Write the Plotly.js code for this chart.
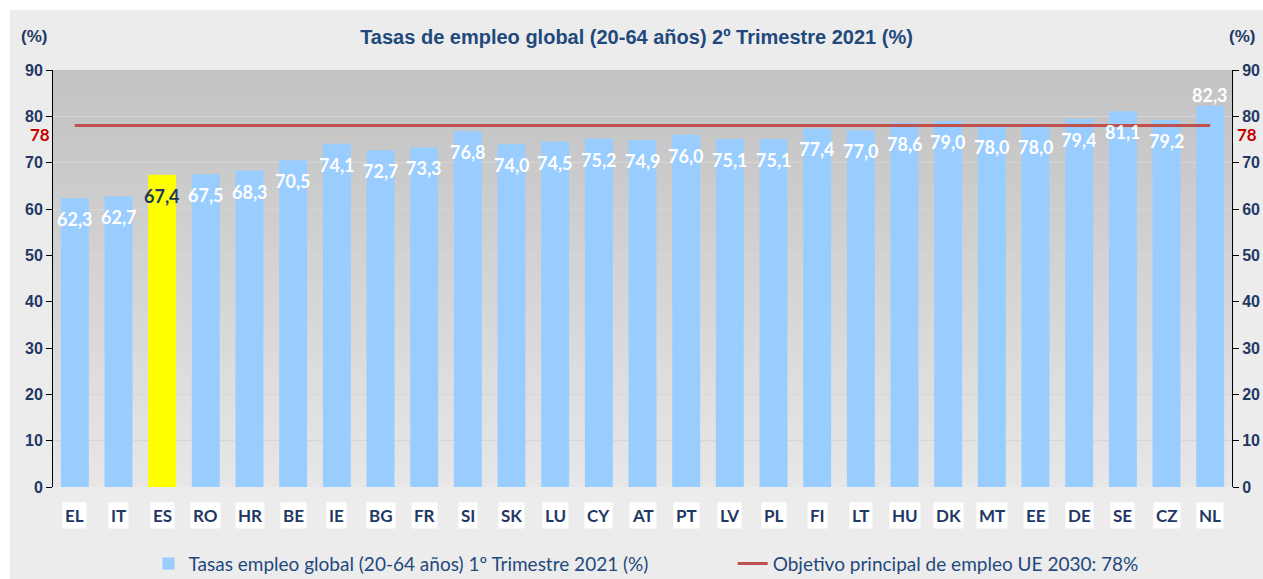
<!DOCTYPE html>
<html><head><meta charset="utf-8">
<script src="https://cdn.plot.ly/plotly-3.0.1.min.js"></script>
<style>
html,body{margin:0;padding:0;background:#ffffff;}
#chart{position:absolute;left:10px;top:10px;width:1253px;height:569px;}
</style></head>
<body><div id="chart"></div>
<script>
const categories = ["EL","IT","ES","RO","HR","BE","IE","BG","FR","SI","SK","LU","CY","AT","PT","LV","PL","FI","LT","HU","DK","MT","EE","DE","SE","CZ","NL"];
const employmentRate = [62.3,62.7,67.4,67.5,68.3,70.5,74.1,72.7,73.3,76.8,74.0,74.5,75.2,74.9,76.0,75.1,75.1,77.4,77.0,78.6,79.0,78.0,78.0,79.4,81.1,79.2,82.3];
const targetValue = 78;
const yTicks = [0,10,20,30,40,50,60,70,80,90];
const highlight = "ES";

const navy = "#1f3864";
const titleBlue = "#1f497d";
const calibri = "Lato, 'Open Sans', sans-serif";
const arial = "'Liberation Sans', Arial, sans-serif";

const barColors = categories.map(c => c === highlight ? "#ffff00" : "#99ccff");

function gradientUrl() {
  const cv = document.createElement("canvas");
  cv.width = 1179; cv.height = 417;
  const ctx = cv.getContext("2d");
  const g = ctx.createLinearGradient(0, 0, 0, 417);
  g.addColorStop(0, "#c4c4c4");
  g.addColorStop(0.13, "#c6c6c6");
  g.addColorStop(1, "#e7e7e7");
  ctx.fillStyle = g;
  ctx.fillRect(0, 0, 1179, 417);
  return cv.toDataURL("image/png");
}

const traces = [
 {
  type: "bar", x: categories, y: employmentRate,
  name: "Tasas empleo global (20-64 años) 1º Trimestre 2021 (%)",
  marker: {color: barColors, line: {width: 0}},
  width: 0.64, hoverinfo: "x+y", legend: "legend"
 },
 {
  type: "scatter", mode: "lines",
  x: [categories[0], categories[categories.length-1]], y: [targetValue, targetValue],
  name: "Objetivo principal de empleo UE 2030: 78%",
  line: {color: "#c0504d", width: 3}, legend: "legend2"
 },
 {
  type: "scatter", mode: "none", x: [categories[0]], y: [0], yaxis: "y2",
  showlegend: false, hoverinfo: "skip"
 }
];

const annotations = [];
categories.forEach((c, i) => {
  const v = employmentRate[i];
  const isLast = i === categories.length - 1;
  annotations.push({
    x: c, y: v, xref: "x", yref: "y",
    text: v.toFixed(1).replace(".", ","),
    showarrow: false,
    yshift: isLast ? 11 : -21,
    font: {family: calibri, size: 18, color: c === highlight ? navy : "#ffffff", weight: 700}
  });
  annotations.push({
    x: c, y: -0.068, xref: "x", yref: "paper", yanchor: "middle",
    text: c, showarrow: false, bgcolor: "#ffffff", borderpad: 2,
    font: {family: calibri, size: 17, color: navy, weight: 700}
  });
});
annotations.push(
 {x: 0, y: targetValue, xref: "paper", yref: "y", xanchor: "right", xshift: -1, yshift: -9,
  text: String(targetValue), showarrow: false, font: {family: calibri, size: 17, color: "#c00000", weight: 700}},
 {x: 1, y: targetValue, xref: "paper", yref: "y", xanchor: "left", xshift: 3, yshift: -9,
  text: String(targetValue), showarrow: false, font: {family: calibri, size: 17, color: "#c00000", weight: 700}},
 {x: -0.016, y: 1.08, xref: "paper", yref: "paper", xanchor: "center", yanchor: "middle",
  text: "(%)", showarrow: false, font: {family: arial, size: 17, color: navy, weight: 700}},
 {x: 1.0085, y: 1.08, xref: "paper", yref: "paper", xanchor: "center", yanchor: "middle",
  text: "(%)", showarrow: false, font: {family: arial, size: 17, color: navy, weight: 700}}
);

const yaxisCommon = {
  range: [0, 90], tickvals: yTicks, showline: true, linecolor: "#000000", linewidth: 1,
  ticks: "outside", ticklen: 6, tickcolor: "#000000",
  tickfont: {family: arial, size: 16, color: navy, weight: 700},
  fixedrange: true, zeroline: false
};

const legendCommon = {orientation: "h", yanchor: "middle", y: -0.184, xanchor: "left",
  font: {family: calibri, size: 19, color: titleBlue}, bgcolor: "rgba(0,0,0,0)", itemwidth: 30};

const layout = {
  width: 1253, height: 569,
  margin: {l: 43, r: 31, t: 60, b: 92, autoexpand: false},
  paper_bgcolor: "#ececec", plot_bgcolor: "rgba(0,0,0,0)",
  title: {text: "Tasas de empleo global (20-64 años) 2º Trimestre 2021 (%)",
    x: 0.5, xanchor: "center", y: 0.953, yanchor: "middle",
    font: {family: arial, size: 20, color: titleBlue, weight: 700}},
  xaxis: {type: "category", range: [-0.5, categories.length - 0.5], showticklabels: false,
    showgrid: false, showline: false, ticks: "", fixedrange: true},
  yaxis: Object.assign({}, yaxisCommon, {side: "left", showgrid: true, gridcolor: "#d6d6d6", gridwidth: 1}),
  yaxis2: Object.assign({}, yaxisCommon, {side: "right", overlaying: "y", showgrid: false}),
  showlegend: true,
  legend: Object.assign({}, legendCommon, {x: 0.081}),
  legend2: Object.assign({}, legendCommon, {x: 0.5765}),
  images: [{source: gradientUrl(), xref: "paper", yref: "paper", x: 0, y: 1, sizex: 1, sizey: 1,
    sizing: "stretch", layer: "below", xanchor: "left", yanchor: "top"}],
  annotations: annotations,
  hovermode: "closest"
};

Plotly.newPlot("chart", traces, layout, {displayModeBar: false});
</script></body></html>
